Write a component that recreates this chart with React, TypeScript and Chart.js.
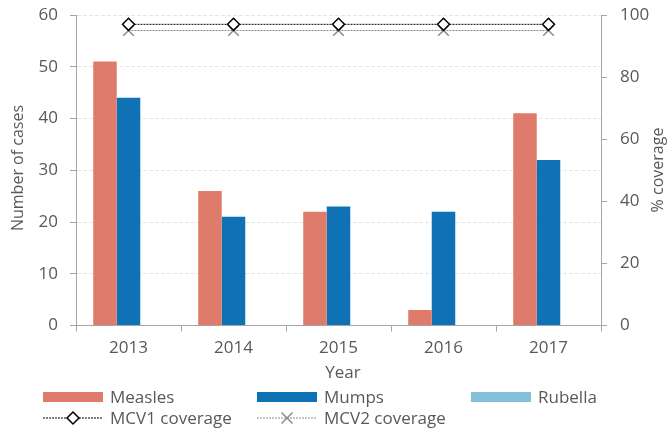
import React, { useEffect, useRef } from "react";
import { Chart, registerables } from "chart.js";

Chart.register(...registerables);

const years = ["2013", "2014", "2015", "2016", "2017"];
const measles = [51, 26, 22, 3, 41];
const mumps = [44, 21, 23, 22, 32];
const rubella = [0, 0, 0, 0, 0];
const mcv1 = [97, 97, 97, 97, 97];
const mcv2 = [95, 95, 95, 95, 95];

const C_MEASLES = "#DF7B6B";
const C_MUMPS = "#0E72B5";
const C_RUBELLA = "#82BFDA";
const C_TEXT = "#595959";
const C_AXIS = "#A6A6A6";
const C_MCV2 = "#8C8C8C";
const FONT = "'Open Sans', 'Noto Sans', sans-serif";

function drawDiamond(ctx: CanvasRenderingContext2D, x: number, y: number, r: number) {
  ctx.beginPath();
  ctx.moveTo(x, y - r);
  ctx.lineTo(x + r, y);
  ctx.lineTo(x, y + r);
  ctx.lineTo(x - r, y);
  ctx.closePath();
  ctx.fillStyle = "#fff";
  ctx.fill();
  ctx.lineWidth = 1.5;
  ctx.strokeStyle = "#000";
  ctx.setLineDash([]);
  ctx.stroke();
}

function drawX(ctx: CanvasRenderingContext2D, x: number, y: number, r: number) {
  ctx.beginPath();
  ctx.moveTo(x - r, y - r);
  ctx.lineTo(x + r, y + r);
  ctx.moveTo(x + r, y - r);
  ctx.lineTo(x - r, y + r);
  ctx.lineWidth = 1.5;
  ctx.strokeStyle = C_MCV2;
  ctx.setLineDash([]);
  ctx.stroke();
}

const overlayPlugin = {
  id: "overlay",
  afterDraw(chart: any) {
    const ctx: CanvasRenderingContext2D = chart.ctx;
    ctx.save();
    ctx.fillStyle = C_TEXT;
    ctx.textBaseline = "middle";
    ctx.font = `16px ${FONT}`;
    ctx.textAlign = "center";
    ctx.save();
    ctx.translate(18, 168);
    ctx.rotate(-Math.PI / 2);
    ctx.fillText("Number of cases", 0, 0);
    ctx.restore();
    ctx.save();
    ctx.translate(658, 170);
    ctx.rotate(-Math.PI / 2);
    ctx.fillText("% coverage", 0, 0);
    ctx.restore();
    ctx.font = `17px ${FONT}`;
    ctx.textBaseline = "alphabetic";
    ctx.fillText("Year", 343, 378);

    ctx.textAlign = "left";
    const cols = [43, 257, 471];
    const row1 = 397;
    const row2 = 418;
    const bars = [
      { label: "Measles", color: C_MEASLES },
      { label: "Mumps", color: C_MUMPS },
      { label: "Rubella", color: C_RUBELLA },
    ];
    bars.forEach((b, i) => {
      ctx.fillStyle = b.color;
      ctx.fillRect(cols[i], row1 - 5, 60, 10);
      ctx.fillStyle = C_TEXT;
      ctx.fillText(b.label, cols[i] + 67, row1 + 6);
    });
    ctx.beginPath();
    ctx.setLineDash([2, 1]);
    ctx.lineWidth = 1;
    ctx.strokeStyle = "#000";
    ctx.moveTo(cols[0], row2);
    ctx.lineTo(cols[0] + 60, row2);
    ctx.stroke();
    drawDiamond(ctx, cols[0] + 30, row2, 6);
    ctx.fillStyle = C_TEXT;
    ctx.fillText("MCV1 coverage", cols[0] + 67, row2 + 6);
    ctx.beginPath();
    ctx.setLineDash([2, 1]);
    ctx.lineWidth = 1;
    ctx.strokeStyle = C_MCV2;
    ctx.moveTo(cols[1], row2);
    ctx.lineTo(cols[1] + 60, row2);
    ctx.stroke();
    drawX(ctx, cols[1] + 30, row2, 5.5);
    ctx.fillStyle = C_TEXT;
    ctx.fillText("MCV2 coverage", cols[1] + 67, row2 + 6);
    ctx.restore();
  },
};

export default function App() {
  const ref = useRef<HTMLCanvasElement>(null);
  useEffect(() => {
    if (!ref.current) return;
    const chart = new Chart(ref.current, {
      type: "bar",
      data: {
        labels: years,
        datasets: [
          { type: "bar", label: "Measles", data: measles, backgroundColor: C_MEASLES, yAxisID: "y", order: 1 },
          { type: "bar", label: "Mumps", data: mumps, backgroundColor: C_MUMPS, yAxisID: "y", order: 1 },
          { type: "bar", label: "Rubella", data: rubella, backgroundColor: C_RUBELLA, yAxisID: "y", order: 1 },
          {
            type: "line",
            label: "MCV1 coverage",
            data: mcv1,
            yAxisID: "y1",
            borderColor: "#000",
            borderWidth: 1,
            borderDash: [2, 1],
            pointStyle: "rectRot",
            pointRadius: 6,
            pointBackgroundColor: "#fff",
            pointBorderColor: "#000",
            pointBorderWidth: 1.5,
            order: 0,
          },
          {
            type: "line",
            label: "MCV2 coverage",
            data: mcv2,
            yAxisID: "y1",
            borderColor: C_MCV2,
            borderWidth: 1,
            borderDash: [2, 1],
            pointStyle: "crossRot",
            pointRadius: 7.5,
            pointBorderColor: C_MCV2,
            pointBorderWidth: 1.5,
            order: 0,
          },
        ] as any,
      },
      options: {
        responsive: false,
        animation: false,
        devicePixelRatio: 1,
        layout: { padding: { top: 15, left: 0, right: 0, bottom: 0 } },
        datasets: { bar: { categoryPercentage: 0.672, barPercentage: 1 } } as any,
        plugins: { legend: { display: false }, tooltip: { enabled: false } },
        scales: {
          x: {
            offset: true,
            grid: {
              offset: true,
              drawOnChartArea: false,
              tickLength: 6,
              tickColor: C_AXIS,
              color: C_AXIS,
            },
            border: { color: C_AXIS, width: 1 },
            ticks: { color: C_TEXT, font: { family: FONT, size: 17 }, padding: 6, maxRotation: 0 },
            afterFit: (s: any) => {
              s.height = 102.5;
              s.paddingLeft = 0;
              s.paddingRight = 0;
            },
          },
          y: {
            position: "left",
            min: 0,
            max: 60,
            ticks: { stepSize: 10, color: C_TEXT, font: { family: FONT, size: 17 }, padding: 12 },
            grid: {
              color: "#E6E6E6",
              tickColor: C_AXIS,
              tickLength: 6,
              tickBorderDash: [],
            },
            border: { color: C_AXIS, width: 1, dash: [4, 2] },
            afterFit: (s: any) => {
              s.width = 76;
              s.paddingTop = 0;
              s.paddingBottom = 0;
            },
          },
          y1: {
            position: "right",
            min: 0,
            max: 100,
            ticks: { stepSize: 20, color: C_TEXT, font: { family: FONT, size: 17 }, padding: 13 },
            grid: { drawOnChartArea: false, tickColor: C_AXIS, tickLength: 6, color: C_AXIS },
            border: { color: C_AXIS, width: 1 },
            afterFit: (s: any) => {
              s.width = 68;
              s.paddingTop = 0;
              s.paddingBottom = 0;
            },
          },
        },
      },
      plugins: [overlayPlugin],
    });
    return () => chart.destroy();
  }, []);
  return (
    <div style={{ position: "fixed", left: 0, top: 0, width: 669, height: 428, background: "#fff" }}>
      <canvas ref={ref} width={669} height={428} style={{ width: 669, height: 428, display: "block" }} />
    </div>
  );
}
